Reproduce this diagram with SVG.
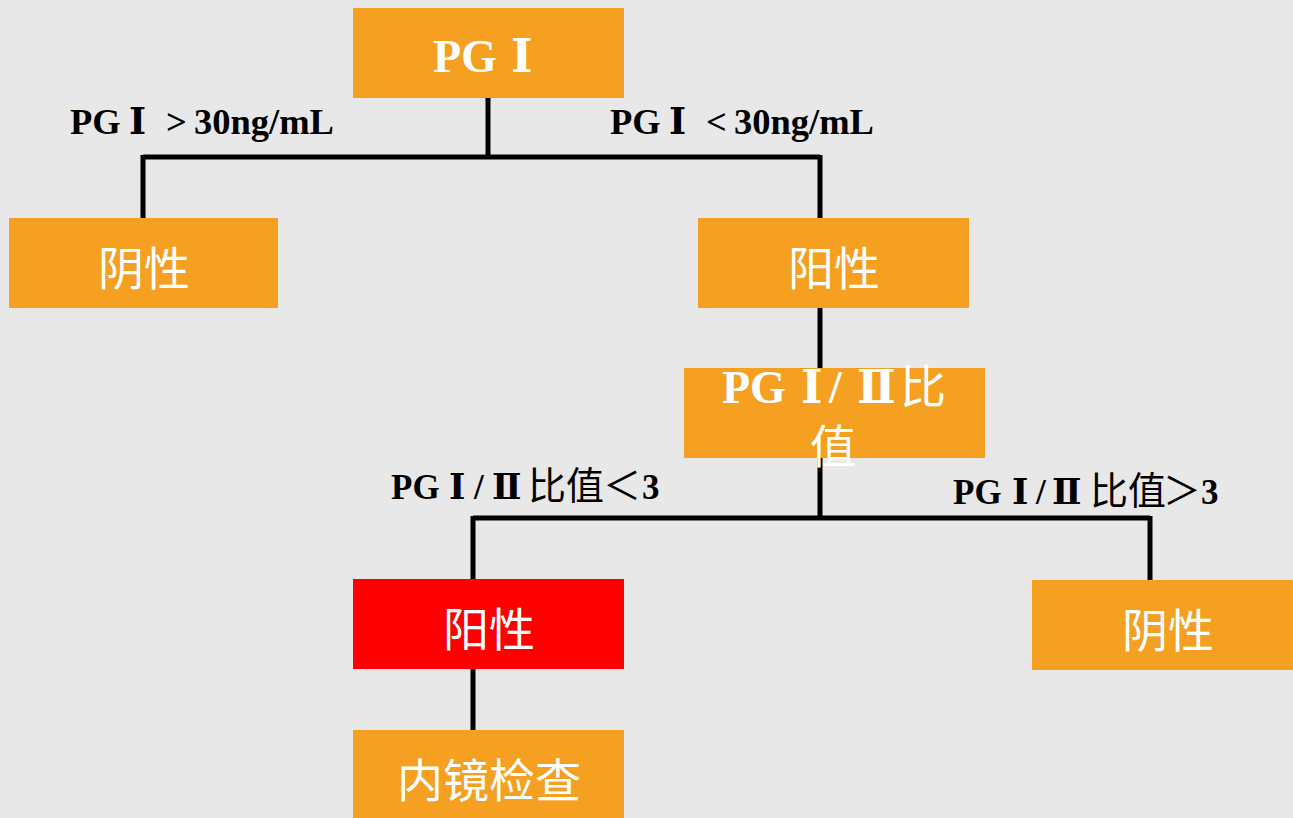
<svg xmlns="http://www.w3.org/2000/svg" width="1293" height="818" viewBox="0 0 1293 818">
<style>
.box{fill:#F5A020}
.red{fill:#FF0000}
.nt{fill:#fff;font-family:"Liberation Serif","DejaVu Serif","Noto Sans CJK SC",serif;font-size:46px;text-anchor:middle}
.st{text-anchor:start}
.nb{font-weight:bold}
.lb{fill:#000;font-family:"Liberation Serif","DejaVu Serif","Noto Sans CJK SC",serif;font-size:35px;font-weight:bold}
.big{font-size:36.5px}
.cj{font-size:38px;font-weight:normal}
.ln{stroke:#000;stroke-width:5;fill:none}
</style>
<rect width="1293" height="818" fill="#E8E8E8"/>
<g id="connectors">
<path class="ln" d="M488,98 V157 M143,157 H820 M143,155 V218 M820,155 V218"/>
<path class="ln" d="M820,308 V368"/>
<path class="ln" d="M820,458 V518 M473,518 H1150 M473,516 V579 M1150,516 V580"/>
<path class="ln" d="M473,669 V730"/>
</g>
<g id="n-pg1">
<rect class="box" x="353" y="8" width="271" height="90"/>
<text class="nt nb st" x="433" y="72">PG<tspan x="511">Ⅰ</tspan></text>
</g>
<g id="n-neg1">
<rect class="box" x="9" y="218" width="269" height="90"/>
<text class="nt" x="144" y="285">阴性</text>
</g>
<g id="n-pos1">
<rect class="box" x="698" y="218" width="271" height="90"/>
<text class="nt" x="834" y="285">阳性</text>
</g>
<g id="n-ratio">
<rect class="box" x="684" y="368" width="301" height="90"/>
<text class="nt nb st" x="722" y="403">PG<tspan x="801">Ⅰ</tspan><tspan x="829">/</tspan><tspan x="857">Ⅱ</tspan><tspan x="900" font-weight="normal">比</tspan></text>
<text class="nt" x="833" y="463">值</text>
</g>
<g id="n-pos2">
<rect class="red" x="353" y="579" width="271" height="90"/>
<text class="nt" x="489" y="646">阳性</text>
</g>
<g id="n-neg2">
<rect class="box" x="1032" y="580" width="261" height="90"/>
<text class="nt" x="1168" y="647">阴性</text>
</g>
<g id="n-endo">
<rect class="box" x="353" y="730" width="271" height="95"/>
<text class="nt" x="489" y="797">内镜检查</text>
</g>
<g id="labels">
<text class="lb big" x="70" y="134">PG<tspan x="129">Ⅰ</tspan><tspan x="165"> </tspan><tspan x="166">&gt;</tspan><tspan x="194">30ng/mL</tspan></text>
<text class="lb big" x="610" y="134">PG<tspan x="669">Ⅰ</tspan><tspan x="705"> </tspan><tspan x="706">&lt;</tspan><tspan x="734">30ng/mL</tspan></text>
<text class="lb" x="391" y="499">PG<tspan x="449">Ⅰ</tspan><tspan x="474">/</tspan><tspan x="492">Ⅱ</tspan><tspan class="cj" x="528">比值</tspan><tspan class="cj" x="603">＜</tspan><tspan x="642">3</tspan></text>
<text class="lb" x="953" y="504">PG<tspan x="1012">Ⅰ</tspan><tspan x="1036">/</tspan><tspan x="1052">Ⅱ</tspan><tspan class="cj" x="1090">比值</tspan><tspan class="cj" x="1163">＞</tspan><tspan x="1201">3</tspan></text>
</g>
</svg>
